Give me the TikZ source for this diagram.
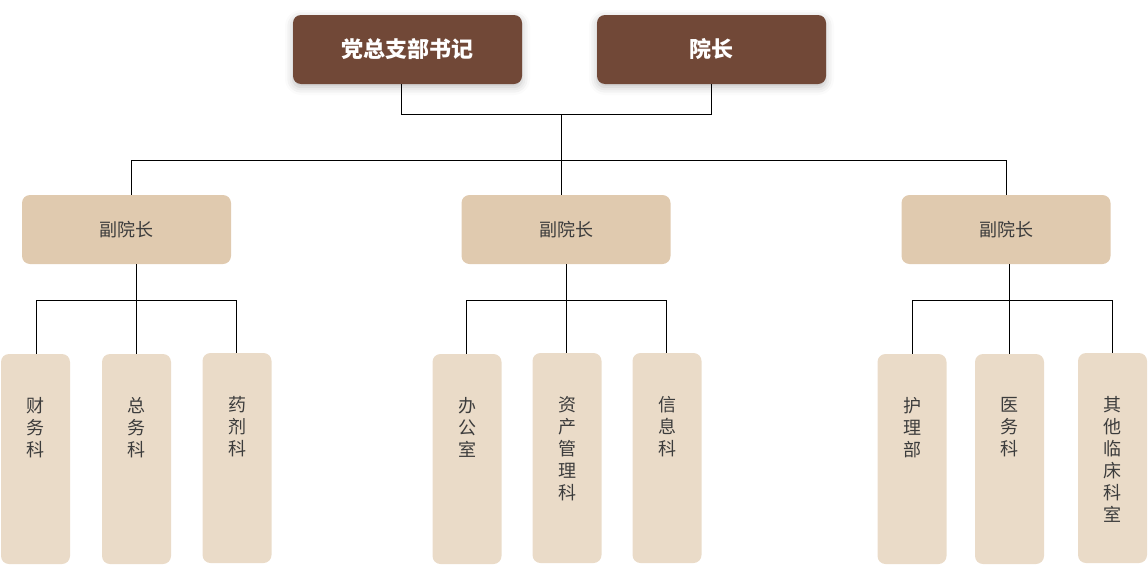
\documentclass[tikz,border=0pt]{standalone}
\usepackage{fontspec}
\setmainfont{Noto Sans CJK SC}
\usetikzlibrary{shadows.blur}
\definecolor{topbrown}{HTML}{714837}
\definecolor{midtan}{HTML}{E0CAAF}
\definecolor{lowtan}{HTML}{EADBC8}
\definecolor{txtgray}{HTML}{3C3C3C}
\tikzset{
  topbox/.style={rounded corners=8pt, fill=topbrown, minimum width=229pt, minimum height=69pt,
     inner sep=0pt, text=white, font=\fontsize{22}{26}\selectfont\bfseries,
     blur shadow={shadow xshift=0pt, shadow yshift=-3pt, shadow blur radius=8pt, shadow opacity=25}},
  midbox/.style={rounded corners=8pt, fill=midtan, minimum width=209pt, minimum height=69pt,
     inner sep=0pt, text=txtgray, font=\fontsize{18}{21}\selectfont},
  lowbox/.style={rounded corners=8pt, fill=lowtan, minimum width=69pt, minimum height=210pt, inner sep=0pt},
  lowtext/.style={anchor=north, inner sep=0pt, align=center, text=txtgray, font=\fontsize{18}{22}\selectfont},
  conn/.style={draw=black, line width=1pt},
}
\begin{document}
\begin{tikzpicture}[x=1pt, y=-1pt]
\useasboundingbox (0,0) rectangle (1148,565);
% top
\node[topbox] (t1) at (407.5,49.5) {党总支部书记};
\node[topbox] (t2) at (711.5,49.5) {院长};
% middle
\node[midbox] (m1) at (126.5,229.5) {副院长};
\node[midbox] (m2) at (566,229.5) {副院长};
\node[midbox] (m3) at (1006,229.5) {副院长};
% bottom
\node[lowbox] (b1) at (35.5,459) {};
\node[lowbox] (b2) at (136.5,459) {};
\node[lowbox] (b3) at (237,458) {};
\node[lowbox] (c1) at (467,459) {};
\node[lowbox] (c2) at (567,458) {};
\node[lowbox] (c3) at (667,458) {};
\node[lowbox] (r1) at (912,459) {};
\node[lowbox] (r2) at (1009.5,459) {};
\node[lowbox] (r3) at (1112.5,458) {};
\node[lowtext] (tb1) at ([yshift=-43pt]b1.north) {财\\务\\科};
\node[lowtext] (tb2) at ([yshift=-43pt]b2.north) {总\\务\\科};
\node[lowtext] (tb3) at ([yshift=-43pt]b3.north) {药\\剂\\科};
\node[lowtext] (tc1) at ([yshift=-43pt]c1.north) {办\\公\\室};
\node[lowtext] (tc2) at ([yshift=-43pt]c2.north) {资\\产\\管\\理\\科};
\node[lowtext] (tc3) at ([yshift=-43pt]c3.north) {信\\息\\科};
\node[lowtext] (tr1) at ([yshift=-43pt]r1.north) {护\\理\\部};
\node[lowtext] (tr2) at ([yshift=-43pt]r2.north) {医\\务\\科};
\node[lowtext] (tr3) at ([yshift=-43pt]r3.north) {其\\他\\临\\床\\科\\室};
% bus coordinates
\coordinate (j0) at (561,114);
\coordinate (j1) at (561,160);
\coordinate (ja) at (136,300);
\coordinate (jb) at (566,300);
\coordinate (jc) at (1009,300);
% connectors
\draw[conn] ([xshift=-6.5pt]t1.south) |- (j0);
\draw[conn] (t2.south) |- (j0);
\draw[conn] (j0) -- (j1);
\draw[conn] ([xshift=4.5pt]m1.north) |- (j1);
\draw[conn] ([xshift=-5pt]m2.north) |- (j1);
\draw[conn] (m3.north) |- (j1);
\draw[conn] ([xshift=9.5pt]m1.south) -- (ja);
\draw[conn] (m2.south) -- (jb);
\draw[conn] ([xshift=3pt]m3.south) -- (jc);
\draw[conn] ([xshift=0.5pt]b1.north) |- (ja);
\draw[conn] ([xshift=-0.5pt]b2.north) -- (ja);
\draw[conn] ([xshift=-1pt]b3.north) |- (ja);
\draw[conn] ([xshift=-1pt]c1.north) |- (jb);
\draw[conn] ([xshift=-1pt]c2.north) -- (jb);
\draw[conn] ([xshift=-1pt]c3.north) |- (jb);
\draw[conn] (r1.north) |- (jc);
\draw[conn] ([xshift=-0.5pt]r2.north) -- (jc);
\draw[conn] ([xshift=-0.5pt]r3.north) |- (jc);
\end{tikzpicture}
\end{document}
